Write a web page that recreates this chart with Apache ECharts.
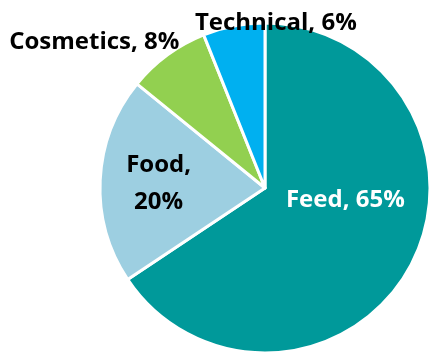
<!DOCTYPE html>
<html lang="en">
<head>
    <meta charset="UTF-8">
    <title>Pie</title>
</head>
<body style="margin:0">
<div style="width: 437px;height: 354px;" id="pieChart"></div>
</body>
<script src="https://cdnjs.cloudflare.com/ajax/libs/echarts/6.0.0/echarts.min.js"></script>
<script type="text/javascript">
  let categories = ['Feed', 'Food', 'Cosmetics', 'Technical'];
  let values = [65, 20, 8, 6];
  let colors = ['#00999A', '#9DCFE1', '#92D050', '#00B0F0'];
  let labelColors = ['#ffffff', '#000000', '#000000', '#000000'];

  // label shifts from the default inside spot
  const shifts = [[5, -28], [-21, 0], [-120, -77], [27, -81]];

  let pieData = [];
  for (let i = 0; i < categories.length; i++) {
    pieData.push({
      name: categories[i],
      value: values[i],
      itemStyle: {color: colors[i]},
      label: {color: labelColors[i]},
    });
  }

  let option = {
    animation: false,
    series: [
      {
        type: 'pie',
        center: [265, 188],
        radius: 165,
        startAngle: 90,
        clockwise: true,
        data: pieData,
        itemStyle: {
          borderColor: '#ffffff',
          borderWidth: 3,
        },
        label: {
          position: 'inside',
          fontFamily: 'Open Sans',
          fontWeight: 'bold',
          fontSize: 24,
          lineHeight: 37,
          formatter: function(p) {
            return p.name + ',' + (p.dataIndex === 1 ? '\n' : ' ') + p.value + '%';
          },
        },
        labelLine: {show: false},
        labelLayout: function(params) {
          let s = shifts[params.dataIndex];
          return {dx: s[0], dy: s[1]};
        },
      }],
  };

  let instance = echarts.init(document.getElementById('pieChart'));
  instance.setOption(option);
</script>
</html>
